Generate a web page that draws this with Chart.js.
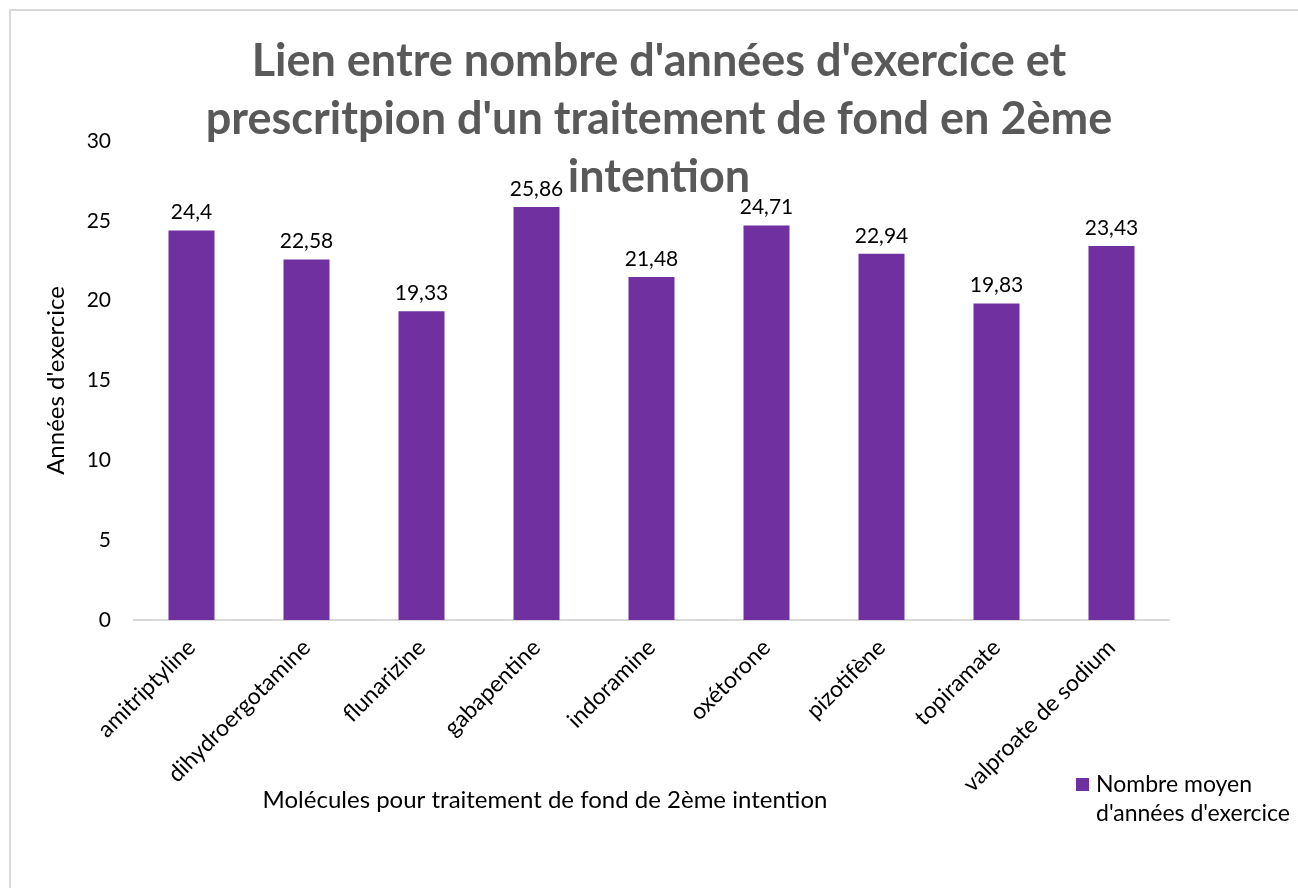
<!DOCTYPE html>
<html>
<head>
<meta charset="utf-8">
<script src="https://cdn.jsdelivr.net/npm/chart.js@4"></script>
<style>
  html, body { margin: 0; padding: 0; background: #fff; overflow: hidden; }
  #frame { position: absolute; left: 9px; top: 9px; width: 1400px; height: 1000px; border: 2px solid #d9d9d9; }
  #myChart { position: absolute; left: 0; top: 0; }
</style>
</head>
<body>
<div id="frame"></div>
<canvas id="myChart" width="1298" height="888"></canvas>
<script>
'use strict';

// data
const molecules = ['amitriptyline', 'dihydroergotamine', 'flunarizine', 'gabapentine', 'indoramine',
                   'oxétorone', 'pizotifène', 'topiramate', 'valproate de sodium'];
const meanYears = [24.4, 22.58, 19.33, 25.86, 21.48, 24.71, 22.94, 19.83, 23.43];
const titleLines = ["Lien entre nombre d'années d'exercice et",
                    "prescritpion d'un traitement de fond en 2ème",
                    "intention"];
const seriesLabel = ['Nombre moyen', "d'années d'exercice"];
const xTitle = 'Molécules pour traitement de fond de 2ème intention';
const yTitle = "Années d'exercice";

const PURPLE = '#7030A0';
const FONT = 'Lato';

function fmt(v){
    return String(v).replace('.', ',');
}

// title, value labels, x axis title and legend drawn on top of the chart
const overlayPlugin = {
    id: 'overlay',
    afterDraw: function(chart){
        const ctx = chart.ctx;
        ctx.save();

        // value labels
        const meta = chart.getDatasetMeta(0);
        ctx.font = '21px ' + FONT;
        ctx.fillStyle = '#000';
        ctx.textAlign = 'center';
        ctx.textBaseline = 'alphabetic';
        meta.data.forEach((bar, i) => {
            ctx.fillText(fmt(meanYears[i]), bar.x, bar.y - 11);
        });

        // chart title
        ctx.font = 'bold 45px ' + FONT;
        ctx.fillStyle = '#595959';
        titleLines.forEach((line, i) => {
            ctx.fillText(line, 659, 76 + i * 58);
        });

        // x axis title
        ctx.font = '24px ' + FONT;
        ctx.fillStyle = '#000';
        ctx.fillText(xTitle, 545, 808);

        // legend
        ctx.fillStyle = PURPLE;
        ctx.fillRect(1076, 778, 13, 13);
        ctx.fillStyle = '#000';
        ctx.textAlign = 'left';
        ctx.font = '23px ' + FONT;
        seriesLabel.forEach((line, i) => {
            ctx.fillText(line, 1096, 792 + i * 29);
        });

        ctx.restore();
    }
};

const ctx = document.getElementById('myChart');
var myChart = new Chart(ctx, {
    type: 'bar',
    data: {
        labels: molecules,
        datasets: [{
            label: seriesLabel.join(' '),
            data: meanYears,
            backgroundColor: PURPLE,
            borderWidth: 0,
            categoryPercentage: 1,
            barPercentage: 0.4
        }]
    },
    options: {
        responsive: false,
        animation: false,
        layout: {
            padding: { left: 20, right: 129, top: 141, bottom: 0 }
        },
        plugins: {
            legend: { display: false },
            title: { display: false },
            tooltip: { enabled: false }
        },
        scales: {
            x: {
                grid: { display: false, drawTicks: false },
                border: { display: true, color: '#d9d9d9', width: 2 },
                ticks: {
                    autoSkip: false,
                    maxRotation: 45,
                    minRotation: 45,
                    padding: 14,
                    color: '#000',
                    font: { family: FONT, size: 23 }
                },
                afterFit: function(scale){ scale.height = 268; }
            },
            y: {
                min: 0,
                max: 30,
                grid: { display: false, drawTicks: false },
                border: { display: false },
                ticks: {
                    stepSize: 5,
                    padding: 23,
                    color: '#000',
                    font: { family: FONT, size: 21 }
                },
                title: {
                    display: true,
                    text: yTitle,
                    color: '#000',
                    padding: { top: 22, bottom: 0 },
                    font: { family: FONT, size: 24 }
                },
                afterFit: function(scale){ scale.width = 114; }
            }
        }
    },
    plugins: [overlayPlugin]
});
</script>
</body>
</html>
